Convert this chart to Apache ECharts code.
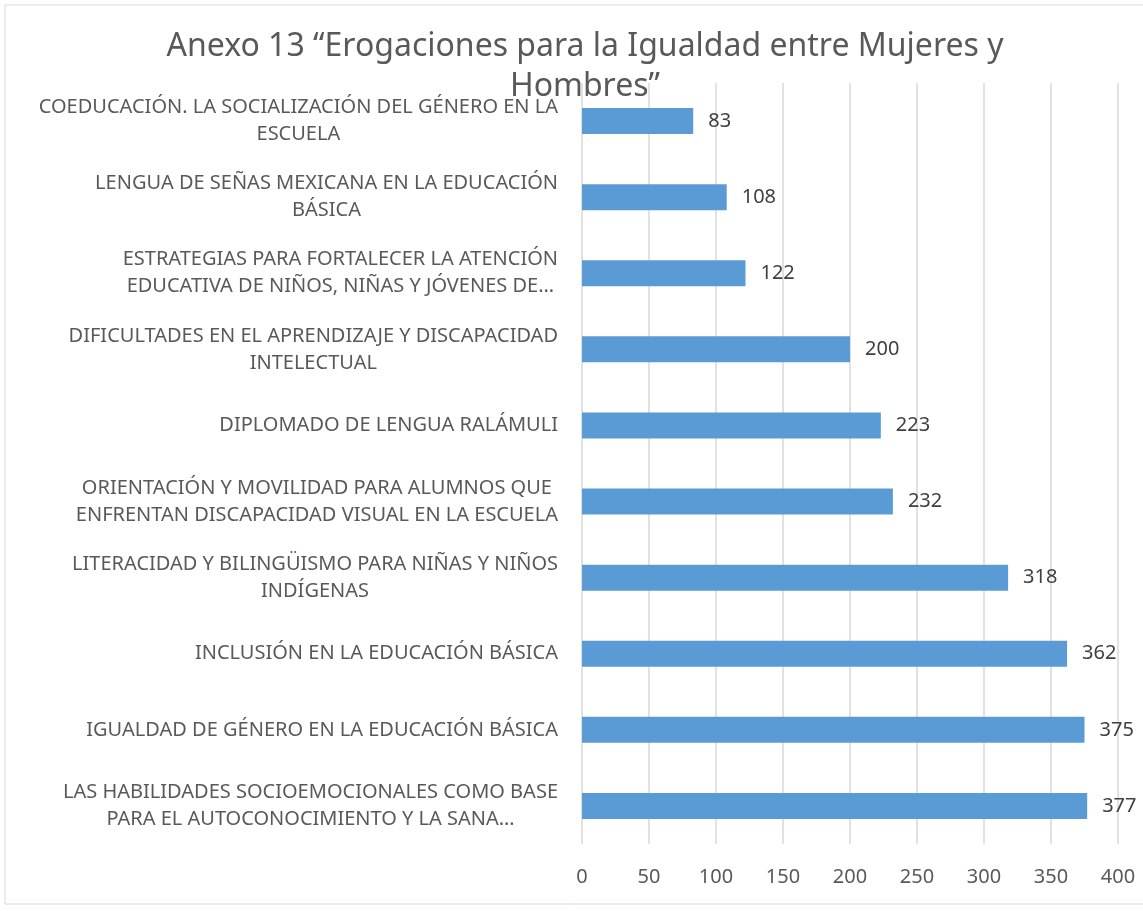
<!DOCTYPE html>
<html>
<head>
<meta charset="utf-8">
<script src="https://cdn.jsdelivr.net/npm/echarts@6/dist/echarts.min.js"></script>
<style>
  html, body { margin: 0; padding: 0; background: #fff; }
  #chart { width: 1143px; height: 911px; }
</style>
</head>
<body>
<div id="chart"></div>
<script>
// data, listed top to bottom as in the picture
var categories = [
  'COEDUCACIÓN. LA SOCIALIZACIÓN DEL GÉNERO EN LA\nESCUELA',
  'LENGUA DE SEÑAS MEXICANA EN LA EDUCACIÓN\nBÁSICA',
  'ESTRATEGIAS PARA FORTALECER LA ATENCIÓN\nEDUCATIVA DE NIÑOS, NIÑAS Y JÓVENES DE…',
  'DIFICULTADES EN EL APRENDIZAJE Y DISCAPACIDAD\nINTELECTUAL',
  'DIPLOMADO DE LENGUA RALÁMULI',
  'ORIENTACIÓN Y MOVILIDAD PARA ALUMNOS QUE\nENFRENTAN DISCAPACIDAD VISUAL EN LA ESCUELA',
  'LITERACIDAD Y BILINGÜISMO PARA NIÑAS Y NIÑOS\nINDÍGENAS',
  'INCLUSIÓN EN LA EDUCACIÓN BÁSICA',
  'IGUALDAD DE GÉNERO EN LA EDUCACIÓN BÁSICA',
  'LAS HABILIDADES SOCIOEMOCIONALES COMO BASE\nPARA EL AUTOCONOCIMIENTO Y LA SANA…'
];
var values = [83, 108, 122, 200, 223, 232, 318, 362, 375, 377];
var axisMax = 400;
var axisStep = 50;

var myChart = echarts.init(document.getElementById('chart'));

var option = {
  backgroundColor: '#ffffff',
  textStyle: { fontFamily: 'Noto Sans' },
  title: {
    text: 'Anexo 13 “Erogaciones para la Igualdad entre Mujeres y\nHombres”',
    left: 580,
    top: 22,
    textAlign: 'center',
    textStyle: {
      fontFamily: 'Noto Sans',
      fontWeight: 'normal',
      fontSize: 32,
      lineHeight: 40,
      color: '#595959'
    }
  },
  graphic: [
    {
      type: 'rect',
      shape: { x: 5, y: 5, width: 1160, height: 899 },
      style: { fill: 'none', stroke: '#d9d9d9', lineWidth: 1 },
      silent: true
    }
  ],
  grid: {
    left: 582,
    right: 25,
    top: 83,
    bottom: 67,
    containLabel: false
  },
  xAxis: {
    type: 'value',
    min: 0,
    max: axisMax,
    interval: axisStep,
    axisLine: { show: false },
    axisTick: { show: false },
    splitLine: { lineStyle: { color: '#d9d9d9', width: 1.5 } },
    axisLabel: {
      margin: 23,
      fontSize: 20,
      color: '#595959'
    }
  },
  yAxis: {
    type: 'category',
    data: categories,
    inverse: true,
    axisLine: { show: false },
    axisTick: { show: false },
    axisLabel: {
      margin: 24,
      align: 'right',
      lineHeight: 27,
      fontSize: 20,
      color: '#595959',
      formatter: function (v) {
        return v.split('\n').map(function (s) { return '{c|' + s + '}'; }).join('\n');
      },
      rich: {
        c: { align: 'center', fontSize: 20, lineHeight: 27, color: '#595959' }
      }
    }
  },
  series: [
    {
      type: 'bar',
      data: values,
      barWidth: 26,
      itemStyle: { color: '#5b9bd5' },
      label: {
        show: true,
        position: 'right',
        distance: 15,
        fontSize: 20,
        color: '#404040'
      }
    }
  ]
};

myChart.setOption(option);
</script>
</body>
</html>
